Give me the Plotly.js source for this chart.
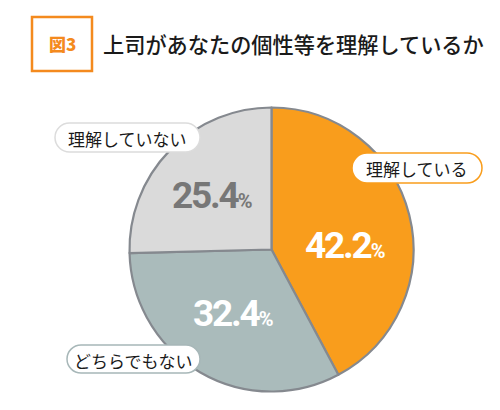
<!DOCTYPE html>
<html>
<head>
<meta charset="utf-8">
<script src="https://cdn.plot.ly/plotly-3.0.1.min.js"></script>
<style>
  html, body { margin: 0; padding: 0; background: #fff; }
  #plotly { width: 500px; height: 410px; }
</style>
</head>
<body>
<div id="plotly"></div>
<script>
// data
const categories = ['理解している', 'どちらでもない', '理解していない'];
const shares = [42.2, 32.4, 25.4];
const sliceColors = ['#F99D1C', '#AABBBB', '#DADADA'];
const valueColors = ['#ffffff', '#ffffff', '#777777'];
const boxBorders = ['#F99D1C', '#A7B7B8', '#DCDCDC'];

// layout positions in page pixels
const W = 500, H = 410;
const pieCx = 271.5, pieCy = 249.5, pieR = 142;
const valuePos = [[345, 245], [233, 313], [212, 195]];
const boxPos = [[352, 153, 482, 183], [67, 345, 200, 373], [55, 123, 200, 152]];

const px = x => x / W;
const py = y => 1 - y / H;

function pill(b) {
  const [x0, y0, x1, y1] = b;
  const r = (y1 - y0) / 2;
  const k = 0.5523 * r;
  const p = (x, y) => px(x) + ',' + py(y);
  return 'M' + p(x0 + r, y0) + ' L' + p(x1 - r, y0) +
    ' C' + p(x1 - r + k, y0) + ' ' + p(x1, y0 + r - k) + ' ' + p(x1, y0 + r) +
    ' C' + p(x1, y0 + r + k) + ' ' + p(x1 - r + k, y1) + ' ' + p(x1 - r, y1) +
    ' L' + p(x0 + r, y1) +
    ' C' + p(x0 + r - k, y1) + ' ' + p(x0, y0 + r + k) + ' ' + p(x0, y0 + r) +
    ' C' + p(x0, y0 + r - k) + ' ' + p(x0 + r - k, y0) + ' ' + p(x0 + r, y0) + ' Z';
}

const pie = {
  type: 'pie',
  labels: categories,
  values: shares,
  sort: false,
  direction: 'clockwise',
  rotation: 0,
  textinfo: 'none',
  hoverinfo: 'skip',
  marker: { colors: sliceColors, line: { color: '#85898f', width: 2.2 } },
  domain: { x: [px(pieCx - pieR), px(pieCx + pieR)], y: [py(pieCy + pieR), py(pieCy - pieR)] }
};

const numFont = 'Roboto, "Liberation Sans", sans-serif';
const jpFont = '"Noto Sans CJK JP", "Noto Sans", sans-serif';

const annotations = [];
const shapes = [];

// title
shapes.push({ type: 'rect', xref: 'paper', yref: 'paper', x0: px(32), x1: px(92), y0: py(71), y1: py(17),
  line: { color: '#F48A1E', width: 2.5 }, fillcolor: 'rgba(0,0,0,0)' });
annotations.push({ xref: 'paper', yref: 'paper', x: px(62), y: py(44), text: '図3', showarrow: false,
  font: { family: jpFont, size: 17, weight: 900, color: '#F48A1E' }, xanchor: 'center', yanchor: 'middle' });
annotations.push({ xref: 'paper', yref: 'paper', x: px(101), y: py(44), text: '上司があなたの個性等を理解しているか', showarrow: false,
  font: { family: jpFont, size: 21.2, weight: 500, color: '#1a1a1a' }, xanchor: 'left', yanchor: 'middle' });

categories.forEach((c, i) => {
  const [x, y] = valuePos[i];
  annotations.push({ xref: 'paper', yref: 'paper', x: px(x), y: py(y), showarrow: false,
    xanchor: 'center', yanchor: 'middle',
    text: '<span style="letter-spacing:-2.2px">' + shares[i].toFixed(1) + '</span>' +
      '<span style="font-size:20px;letter-spacing:-1px">%</span>',
    font: { family: numFont, size: 37, weight: 'bold', color: valueColors[i] } });
  const b = boxPos[i];
  shapes.push({ type: 'path', xref: 'paper', yref: 'paper', layer: 'above', path: pill(b),
    fillcolor: '#ffffff', line: { color: boxBorders[i], width: 1.5 } });
  annotations.push({ xref: 'paper', yref: 'paper', x: px((b[0] + b[2]) / 2), y: py((b[1] + b[3]) / 2 + 1),
    text: c, showarrow: false, xanchor: 'center', yanchor: 'middle',
    font: { family: jpFont, size: 17, color: '#1a1a1a' } });
});

const layout = {
  width: W, height: H,
  margin: { l: 0, r: 0, t: 0, b: 0 },
  paper_bgcolor: '#ffffff',
  showlegend: false,
  shapes: shapes,
  annotations: annotations
};

Plotly.newPlot(document.getElementById('plotly'), [pie], layout, { displayModeBar: false, staticPlot: true });
</script>
</body>
</html>
